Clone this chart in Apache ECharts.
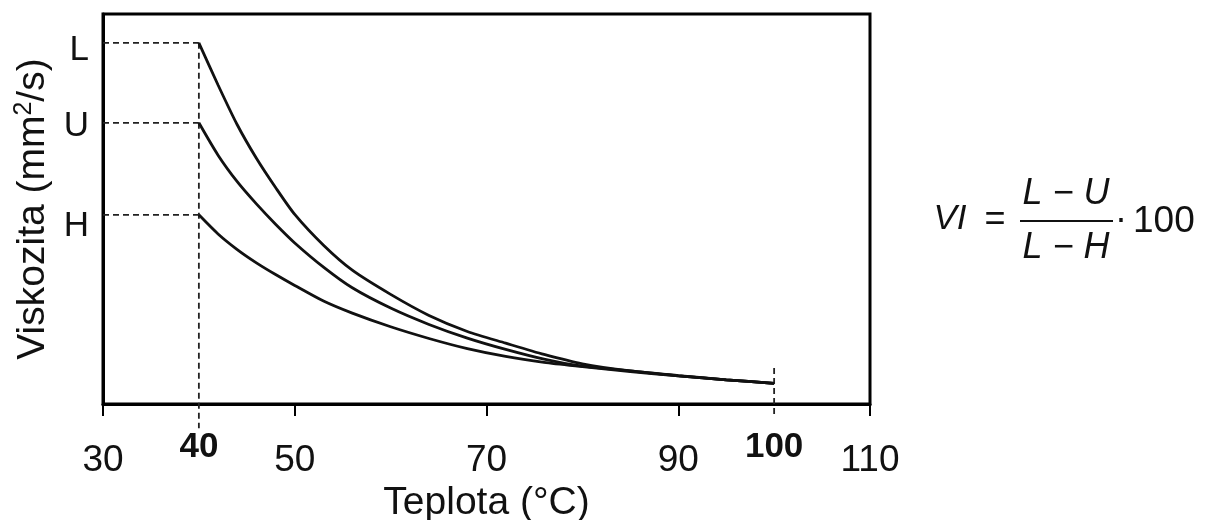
<!DOCTYPE html>
<html>
<head>
<meta charset="utf-8">
<script src="https://cdn.jsdelivr.net/npm/echarts@6/dist/echarts.min.js"></script>
<style>
html,body{margin:0;padding:0;background:#fff;}
#chart{width:1212px;height:520px;}
</style>
</head>
<body>
<div id="chart"></div>
<script>
// ---- data ----
const xValues = [40, 42, 44, 46, 48, 50, 53, 56, 60, 64, 68, 72, 76, 80, 85, 90, 95, 100];
const curveL = [92.6, 81.8, 71.6, 63.0, 55.5, 48.6, 40.7, 34.3, 28.1, 22.7, 18.6, 15.6, 12.7, 10.3, 8.5, 7.3, 6.2, 5.3];
const curveU = [72.1, 63.8, 57.0, 51.3, 46.1, 41.3, 35.1, 29.8, 24.6, 20.4, 16.9, 14.0, 11.5, 9.7, 8.5, 7.2, 6.2, 5.3];
const curveH = [48.5, 43.6, 39.6, 36.2, 33.2, 30.4, 26.4, 23.3, 19.8, 16.8, 14.2, 12.2, 10.7, 9.6, 8.3, 7.2, 6.2, 5.3];
const curveNames = ['L', 'U', 'H'];
const xTickValues = [30, 50, 70, 90, 110];
const xBoldValues = [40, 100];
const xMin = 30, xMax = 110;
const yMin = 0, yMax = 100;
const guideStartX = 30;
const guide40Bottom = -6.2;
const guide100Range = [9.2, -2.8];
const xTitle = 'Teplota (°C)';

// ---- build ----
const curves = [curveL, curveU, curveH];
const startVals = curves.map(c => c[0]);
const FONT = 'Liberation Sans, Arial, sans-serif';
const dash = { color: '#222', width: 1.8, type: [6, 4] };

const series = [];
curves.forEach((c, i) => {
  series.push({
    type: 'line', name: curveNames[i], xAxisIndex: 0,
    data: xValues.map((x, j) => [x, c[j]]),
    showSymbol: false, smooth: 0.25, silent: true,
    lineStyle: { color: '#111', width: 2.8 }, z: 5
  });
  series.push({
    type: 'line', xAxisIndex: 0, clip: false, silent: true, showSymbol: false,
    data: [[guideStartX, c[0]], [xValues[0], c[0]]],
    lineStyle: dash, z: 3
  });
});
series.push({
  type: 'line', xAxisIndex: 0, clip: false, silent: true, showSymbol: false,
  data: [[xValues[0], startVals[0]], [xValues[0], guide40Bottom]],
  lineStyle: dash, z: 3
});
series.push({
  type: 'line', xAxisIndex: 0, clip: false, silent: true, showSymbol: false,
  data: [[xValues[xValues.length - 1], guide100Range[0]], [xValues[xValues.length - 1], guide100Range[1]]],
  lineStyle: dash, z: 3
});

const labelPad = { L: [14, 0, 0, 0], U: [8, 0, 0, 0], H: [22, 0, 0, 0] };

const chart = echarts.init(document.getElementById('chart'), null, { renderer: 'canvas' });
chart.setOption({
  backgroundColor: '#fff',
  animation: false,
  grid: {
    left: 103, right: 342, top: 14, bottom: 116,
    containLabel: false, outerBoundsMode: 'none',
    show: true, borderColor: '#000', borderWidth: 3, backgroundColor: 'transparent'
  },
  xAxis: [
    {
      type: 'value', min: xMin, max: xMax, interval: 10, position: 'bottom',
      name: xTitle, nameLocation: 'middle', nameGap: 76,
      nameTextStyle: { fontFamily: FONT, fontSize: 39, color: '#111' },
      axisLine: { show: true, lineStyle: { color: '#000', width: 3 } },
      axisTick: { show: true, length: 12, inside: false, customValues: xTickValues, lineStyle: { color: '#000', width: 2 } },
      axisLabel: { customValues: xTickValues, margin: 38, fontFamily: FONT, fontSize: 37, color: '#111' },
      splitLine: { show: false }
    },
    {
      type: 'value', min: xMin, max: xMax, interval: 10, position: 'bottom',
      axisLine: { show: false }, axisTick: { show: false },
      axisLabel: { customValues: xBoldValues, margin: 26, fontFamily: FONT, fontSize: 35, fontWeight: 'bold', color: '#111' },
      splitLine: { show: false }
    }
  ],
  yAxis: {
    type: 'value', min: yMin, max: yMax,
    name: 'Viskozita (mm{sup|2}/s)', nameLocation: 'middle', nameGap: 46,
    nameTextStyle: {
      fontFamily: FONT, fontSize: 39, color: '#111',
      rich: { sup: { fontFamily: FONT, fontSize: 25, color: '#111', padding: [0, 0, 18, 0] } }
    },
    axisLine: { show: true, lineStyle: { color: '#000', width: 3 } },
    axisTick: { show: false },
    axisLabel: {
      customValues: startVals, margin: 14, fontFamily: FONT, fontSize: 35, color: '#111',
      formatter: function (v) {
        let best = 0;
        startVals.forEach((s, i) => { if (Math.abs(s - v) < Math.abs(startVals[best] - v)) best = i; });
        const n = curveNames[best];
        return '{' + n + '|' + n + '}';
      },
      rich: {
        L: { fontFamily: FONT, fontSize: 35, color: '#111', padding: labelPad.L },
        U: { fontFamily: FONT, fontSize: 35, color: '#111', padding: labelPad.U },
        H: { fontFamily: FONT, fontSize: 35, color: '#111', padding: labelPad.H }
      }
    },
    splitLine: { show: false }
  },
  graphic: [
    { type: 'text', x: 950, y: 219, style: { text: 'VI', font: 'italic 35px ' + FONT, fill: '#111', align: 'center', verticalAlign: 'middle' } },
    { type: 'text', x: 995, y: 220, style: { text: '=', font: '36px ' + FONT, fill: '#111', align: 'center', verticalAlign: 'middle' } },
    { type: 'text', x: 1066, y: 194, style: { text: 'L − U', font: 'italic 36px ' + FONT, fill: '#111', align: 'center', verticalAlign: 'middle' } },
    { type: 'line', shape: { x1: 1020, y1: 221, x2: 1113, y2: 221 }, style: { stroke: '#111', lineWidth: 2 } },
    { type: 'text', x: 1066, y: 248, style: { text: 'L − H', font: 'italic 36px ' + FONT, fill: '#111', align: 'center', verticalAlign: 'middle' } },
    { type: 'text', x: 1121, y: 220, style: { text: '·', font: '36px ' + FONT, fill: '#111', align: 'center', verticalAlign: 'middle' } },
    { type: 'text', x: 1133, y: 222, style: { text: '100', font: '37px ' + FONT, fill: '#111', align: 'left', verticalAlign: 'middle' } }
  ],
  series: series
});
</script>
</body>
</html>
